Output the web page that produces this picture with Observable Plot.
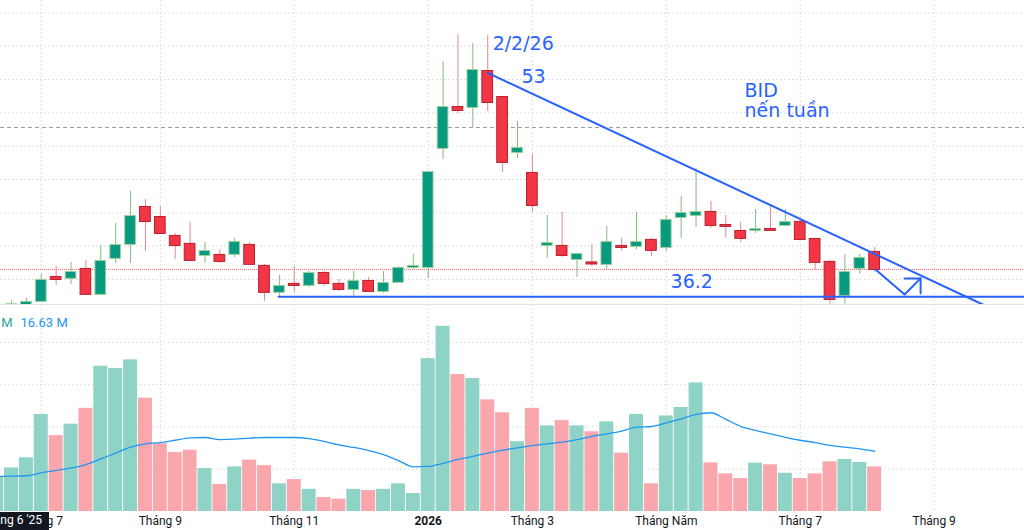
<!DOCTYPE html>
<html><head><meta charset="utf-8">
<script src="https://cdn.jsdelivr.net/npm/d3@7"></script>
<script src="https://cdn.jsdelivr.net/npm/@observablehq/plot@0.6"></script>
<style>
html,body{margin:0;padding:0;background:#fff;overflow:hidden;width:1024px;height:530px;}
#chart svg{display:block;}
</style></head><body><div id="chart"></div>
<script>
// weekly candles (first entry is the partially visible week left of the frame)
const weeks = ["2025-06-16","2025-06-23","2025-06-30","2025-07-07","2025-07-14","2025-07-21","2025-07-28","2025-08-04","2025-08-11","2025-08-18","2025-08-25",
"2025-09-01","2025-09-08","2025-09-15","2025-09-22","2025-09-29","2025-10-06","2025-10-13","2025-10-20","2025-10-27",
"2025-11-03","2025-11-10","2025-11-17","2025-11-24","2025-12-01","2025-12-08","2025-12-15","2025-12-22","2025-12-29",
"2026-01-05","2026-01-12","2026-01-19","2026-01-26","2026-02-02","2026-02-09","2026-02-23",
"2026-03-02","2026-03-09","2026-03-16","2026-03-23","2026-03-30","2026-04-06","2026-04-13","2026-04-20","2026-04-27",
"2026-05-04","2026-05-11","2026-05-18","2026-05-25","2026-06-01","2026-06-08","2026-06-15","2026-06-22","2026-06-29",
"2026-07-06","2026-07-13","2026-07-20","2026-07-27","2026-08-03","2026-08-10"];
const open = [35.3,35.4,35.6,35.85,37.65,37.58,38.25,36.38,39.08,40.13,42.9,42.15,40.73,40.13,39.3,39.3,39.38,40.05,38.48,36.53,
37.13,37.05,37.95,37.13,36.75,37.35,36.6,37.28,38.4,38.4,47.33,50.4,50.4,53.1,51.15,47.03,45.45,40.05,39.98,39.0,
38.74,38.63,39.98,39.98,40.43,39.9,42.15,42.3,42.53,41.55,41.1,41.18,41.25,41.55,41.78,40.5,38.78,36.3,38.33,39.53];
const close = [35.5,35.6,35.78,37.43,37.5,38.03,36.38,38.85,40.05,42.23,41.85,40.95,40.05,38.93,39.6,38.85,40.28,38.63,36.53,36.98,
37.05,37.95,37.2,36.75,37.35,36.6,37.2,38.33,38.48,45.53,50.4,50.18,53.18,50.78,46.28,47.33,43.05,40.2,39.3,39.38,
38.66,40.28,39.9,40.28,39.68,41.93,42.45,42.53,41.55,41.48,40.58,41.25,41.18,41.78,40.5,38.78,36.0,38.03,39.08,38.25];
const high = [35.55,35.9,36.1,37.88,38.48,38.78,38.93,40.05,41.7,44.1,43.5,42.98,40.95,41.78,40.28,39.75,40.58,40.28,38.63,37.8,
38.48,38.1,38.1,37.5,38.1,37.65,38.1,38.48,39.38,45.6,53.85,55.88,55.2,55.8,51.2,49.35,46.88,42.3,42.53,39.45,
40.13,41.48,40.58,42.53,40.58,42.3,43.73,45.83,43.35,42.3,41.78,42.75,42.98,42.75,42.08,40.55,38.93,39.38,39.38,39.9];
const low = [35.1,35.2,35.5,35.8,37.05,37.13,36.3,36.3,38.7,38.7,39.6,40.9,39.0,38.9,38.7,38.7,39.15,38.6,35.85,36.15,
36.53,36.9,36.98,36.6,36.23,36.55,36.45,37.2,38.25,37.58,46.5,49.95,48.9,50.1,45.53,46.58,42.53,39.08,39.15,37.65,
38.48,38.25,39.6,39.75,39.23,39.6,40.58,41.4,41.33,40.58,40.28,40.95,41.1,41.5,40.45,38.18,35.63,35.63,37.88,38.03];
const volume = [16.5,20.6,25.4,45.9,35.9,41.3,48.8,68.7,67.6,71.7,53.6,32.0,27.9,29.0,20.3,12.8,21.1,24.3,21.7,13.1,15.1,
10.5,6.6,5.8,10.5,9.9,10.5,13.1,8.5,72.3,87.6,64.8,62.9,52.8,46.7,33.0,48.8,40.5,43.0,40.5,37.7,
42.4,27.6,45.9,13.1,45.2,49.2,60.8,23.0,17.8,15.6,22.9,22.1,18.1,15.6,17.8,23.5,24.6,23.2,21.1];
const volMA = [16.6,16.7,16.9,18.3,19.4,20.6,22.2,24.9,27.6,30.4,32.0,32.6,33.7,34.8,35.0,34.0,34.2,34.7,35.0,35.0,35.0,
34.5,33.2,31.5,30.3,28.8,26.9,24.1,21.1,21.3,22.8,24.6,26.1,27.6,29.0,30.1,31.2,32.0,32.8,34.0,35.5,
36.7,38.0,39.9,40.2,41.9,43.8,45.9,46.7,43.6,40.3,38.4,36.7,35.1,33.7,32.6,31.3,30.4,29.6,28.5];

// axis ticks (bar index of the first bar of each month) and labels
const tickPos = [2,10,19,28,35,44,53,62];
const tickLabels = ["Tháng 7","Tháng 9","Tháng 11","2026","Tháng 3","Tháng Năm","Tháng 7","Tháng 9"];
const crossPos = [0];
const crossLabel = ["Tháng 6 '25"];
const priceGrid = [37.5,40,42.5,45,47.5,50,52.5,55,57.5];
const volGrid = [20,40,60,80];
const volLegend = ["20.57 M","16.63 M"];

// drawings
const trendI = [32, 65.3], trendV = [53, 35.6];
const supportI = [17.95, 69], supportV = [36.2, 36.2];
const arrowI = [58.06, 60.01, 61.09], arrowV = [38.25, 36.37, 37.58];
const headI = [60.01, 61.09, 61.09], headV = [37.58, 37.58, 36.45];
const dashedLevel = [48.9];
const noteText = ["2/2/26","53","BID","nến tuần","36.2"];
const noteI = [32.33, 34.27, 49.26, 49.26, 44.29];
const noteV = [55.21, 52.73, 51.68, 50.11, 37.28];

const candles = weeks.map((w, k) => ({
  i: k - 1, w, o: open[k], c: close[k], h: high[k], l: low[k],
  vol: volume[k], ma: volMA[k], up: close[k] >= open[k]
}));
const pts = (I, V) => I.map((x, k) => ({i: x, v: V[k]}));
const notes = noteText.map((t, k) => ({t, i: noteI[k], v: noteV[k]}));
const ticks = tickPos.map((p, k) => ({p, label: tickLabels[k]}));
const lastClose = [close[close.length - 1]];

const GREEN = "#089981", RED = "#f23645", BLUE = "#2962ff";
const gridStyle = {stroke: "#d3d6dc", strokeDasharray: "1.5,2.5"};
const xScale = {type: "linear", domain: [-0.74, 68.07], axis: null};

const price = Plot.plot({
  width: 1024, height: 304, marginTop: 0, marginBottom: 0, marginLeft: 0, marginRight: 0,
  x: xScale,
  y: {type: "linear", domain: [35.62, 58.43], axis: null},
  marks: [
    Plot.ruleY(priceGrid, gridStyle),
    Plot.ruleX(tickPos, gridStyle),
    Plot.ruleY(dashedLevel, {stroke: "#9e9e9e", strokeDasharray: "4,3"}),
    Plot.ruleY(lastClose, {stroke: RED, strokeOpacity: 0.75, strokeDasharray: "1,1"}),
    Plot.ruleX(candles, {x: "i", y1: "l", y2: "h", stroke: d => d.up ? "#84b97d" : "#de8a90", clip: true}),
    Plot.rect(candles, {x1: d => d.i - 0.36, x2: d => d.i + 0.36, y1: "o", y2: "c",
      insetTop: -0.5, insetBottom: -0.5,
      fill: d => d.up ? GREEN : RED, stroke: d => d.up ? "#9fd19a" : "#b8202c", strokeWidth: 1, clip: true}),
    Plot.line(pts(supportI, supportV), {x: "i", y: "v", stroke: BLUE, strokeWidth: 2}),
    Plot.line(pts(trendI, trendV), {x: "i", y: "v", stroke: BLUE, strokeWidth: 2}),
    Plot.line(pts(arrowI, arrowV), {x: "i", y: "v", stroke: BLUE, strokeWidth: 2}),
    Plot.line(pts(headI, headV), {x: "i", y: "v", stroke: BLUE, strokeWidth: 2}),
    Plot.text(notes, {x: "i", y: "v", text: "t", textAnchor: "start", lineAnchor: "middle",
      fill: BLUE, fontSize: 19, fontFamily: "DejaVu Sans"})
  ]
});

const vol = Plot.plot({
  width: 1024, height: 226, marginTop: 0, marginBottom: 19, marginLeft: 0, marginRight: 0,
  x: xScale,
  y: {type: "linear", domain: [0, 97.9], axis: null},
  marks: [
    Plot.ruleY(volGrid, gridStyle),
    Plot.ruleX(tickPos, gridStyle),
    Plot.frame({anchor: "top", stroke: "#e0e3eb"}),
    Plot.rect(candles, {x1: d => d.i - 0.47, x2: d => d.i + 0.47, y1: d => 0, y2: "vol",
      fill: d => d.up ? "#8fd3c7" : "#f9a7ad"}),
    Plot.line(candles, {x: "i", y: "ma", stroke: "#2196f3", strokeWidth: 1.3, curve: "monotone-x"}),
    Plot.text(ticks.filter(d => d.label !== "2026"), {x: "p", text: "label", frameAnchor: "bottom", dy: 13,
      fill: "#131722", fontSize: 12, fontFamily: "Roboto"}),
    Plot.text(ticks.filter(d => d.label === "2026"), {x: "p", text: "label", frameAnchor: "bottom", dy: 13,
      fill: "#131722", fontSize: 12, fontWeight: "bold", fontFamily: "Roboto"}),
    (index, scales, values, dimensions) => {
      const g = d3.create("svg:g");
      const cx = scales.x(crossPos[0]);
      const top = dimensions.height - dimensions.marginBottom + 1;
      g.append("rect").attr("x", cx - 38).attr("y", top).attr("width", 76)
        .attr("height", dimensions.marginBottom).attr("fill", "#131722");
      g.append("text").attr("x", cx).attr("y", top + 12).attr("text-anchor", "middle")
        .attr("fill", "#fff").attr("font-size", 12).attr("font-family", "Roboto").text(crossLabel[0]);
      return g.node();
    },
    Plot.text([volLegend[0]], {frameAnchor: "top-left", dx: 12, dy: 18, textAnchor: "end", lineAnchor: "middle",
      fill: "#26a69a", fontSize: 13, fontFamily: "Roboto"}),
    Plot.text([volLegend[1]], {frameAnchor: "top-left", dx: 20, dy: 18, textAnchor: "start", lineAnchor: "middle",
      fill: "#2196f3", fontSize: 13, fontFamily: "Roboto"})
  ]
});

const chart = document.getElementById("chart");
chart.appendChild(price);
chart.appendChild(vol);
</script>
</body></html>
